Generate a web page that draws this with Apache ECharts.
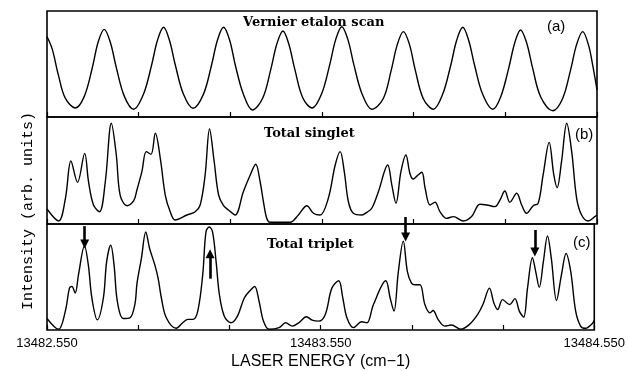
<!DOCTYPE html>
<html>
<head>
<meta charset="utf-8">
<script src="https://cdn.jsdelivr.net/npm/echarts@6/dist/echarts.min.js"></script>
<style>
	html, body { margin: 0; padding: 0; background: #fff; }
	#chart { width: 628px; height: 371px; }
</style>
</head>
<body>
<div id="chart"></div>
<script>
// laser energy (cm-1) and intensity (arb. units, 0-100 per panel)
const etalonE = [13482.550, 13482.569, 13482.591, 13482.616, 13482.653, 13482.686, 13482.715, 13482.736, 13482.758, 13482.780, 13482.802, 13482.831, 13482.865,
	13482.901, 13482.930, 13482.952, 13482.974, 13482.995, 13483.017, 13483.046, 13483.081,
	13483.119, 13483.148, 13483.170, 13483.192, 13483.214, 13483.235, 13483.264, 13483.297,
	13483.335, 13483.364, 13483.386, 13483.408, 13483.429, 13483.451, 13483.480, 13483.514,
	13483.549, 13483.578, 13483.600, 13483.622, 13483.644, 13483.666, 13483.695, 13483.731,
	13483.773, 13483.802, 13483.824, 13483.846, 13483.868, 13483.889, 13483.918, 13483.955,
	13483.989, 13484.018, 13484.040, 13484.062, 13484.083, 13484.105, 13484.134, 13484.171,
	13484.200, 13484.229, 13484.251, 13484.272, 13484.294, 13484.316, 13484.345, 13484.389,
	13484.425, 13484.454, 13484.476, 13484.498, 13484.519, 13484.535, 13484.550]
const etalonI = [76, 64, 40, 18, 8.5, 19.7, 46.7, 70.7, 82.7, 70.7, 46.7, 19.7, 7.3,
	21.6, 48.6, 72.6, 84.6, 72.6, 48.6, 21.6, 8.2,
	21.6, 48.6, 72.6, 84.6, 72.6, 48.6, 21.6, 6.6,
	18.1, 45.1, 69.1, 81.1, 69.1, 45.1, 18.1, 8.5,
	22.2, 49.2, 73.2, 85.2, 73.2, 49.2, 22.2, 7.3,
	17.5, 44.5, 68.5, 80.5, 68.5, 44.5, 17.5, 7.3,
	21.6, 48.6, 72.6, 84.6, 72.6, 48.6, 21.6, 7.3,
	19.1, 46.1, 70.1, 82.1, 70.1, 46.1, 19.1, 5.9,
	17.5, 44.5, 68.5, 80.5, 68, 48, 25.5]

const singletE = [13482.550, 13482.592, 13482.617, 13482.637, 13482.661, 13482.687, 13482.701, 13482.719, 13482.741, 13482.762,
	13482.784, 13482.802, 13482.816, 13482.841, 13482.865, 13482.877, 13482.895, 13482.911, 13482.928, 13482.944,
	13482.962, 13482.980, 13482.998, 13483.016, 13483.059, 13483.089, 13483.107, 13483.125, 13483.141, 13483.158,
	13483.174, 13483.192, 13483.210, 13483.234, 13483.264, 13483.289, 13483.309, 13483.325, 13483.337, 13483.349,
	13483.361, 13483.434, 13483.464, 13483.495, 13483.519, 13483.543, 13483.573, 13483.598, 13483.616, 13483.631,
	13483.646, 13483.664, 13483.695, 13483.713, 13483.731, 13483.755, 13483.789, 13483.804, 13483.819, 13483.837,
	13483.855, 13483.870, 13483.882, 13483.896, 13483.913, 13483.925, 13483.943, 13483.961, 13483.979, 13484.003,
	13484.028, 13484.064, 13484.094, 13484.124, 13484.149, 13484.179, 13484.197, 13484.215, 13484.233, 13484.258,
	13484.276, 13484.294, 13484.318, 13484.336, 13484.354, 13484.376, 13484.393, 13484.405, 13484.421, 13484.440,
	13484.458, 13484.476, 13484.494, 13484.518, 13484.542, 13484.550]
const singletI = [14, 2.8, 24, 58.9, 39, 66, 39.5, 17.8, 11.5, 39.5,
	94.1, 64.5, 27, 17.1, 21.5, 31.8, 48.9, 67.6, 65.1, 84.8,
	61.4, 27.1, 11.5, 3.7, 8.4, 11.5, 17.8, 45.8, 88.8, 58.2,
	27.1, 17.1, 13.1, 8.4, 30.2, 45.8, 55.8, 39.5, 20.8, 5.3,
	1.6, 1.6, 8.4, 17.1, 10, 8.4, 24, 55.1, 67.6, 48.9,
	20.8, 10, 8.4, 10.9, 14.7, 30.2, 55.1, 36.4, 19.3, 48.9,
	64.5, 47, 42, 45, 48.3, 33.4, 17.8, 20.3, 11.5, 5.3,
	6.9, 2.8, 6.9, 18.4, 17.8, 16.2, 22.4, 30.8, 20.3, 28.7,
	17.8, 10, 17.1, 19.3, 45.8, 76.3, 45.8, 33.9, 58.2, 94.1,
	67.6, 24, 8.4, 2.8, 6.9, 8.4]

const tripletE = [13482.550, 13482.592, 13482.617, 13482.632, 13482.641, 13482.653, 13482.665, 13482.687, 13482.701, 13482.714,
	13482.734, 13482.756, 13482.768, 13482.783, 13482.795, 13482.807, 13482.828, 13482.853, 13482.871, 13482.879,
	13482.895, 13482.911, 13482.925, 13482.944, 13482.956, 13482.968, 13482.986, 13483.022, 13483.046, 13483.065,
	13483.083, 13483.101, 13483.119, 13483.131, 13483.143, 13483.155, 13483.168, 13483.180, 13483.198, 13483.222,
	13483.246, 13483.271, 13483.295, 13483.309, 13483.325, 13483.341, 13483.361, 13483.398, 13483.422, 13483.446,
	13483.470, 13483.498, 13483.519, 13483.543, 13483.567, 13483.591, 13483.616, 13483.631, 13483.646, 13483.670,
	13483.700, 13483.719, 13483.743, 13483.788, 13483.804, 13483.818, 13483.834, 13483.852, 13483.867, 13483.882,
	13483.894, 13483.913, 13483.931, 13483.949, 13483.961, 13483.979, 13484.003, 13484.028, 13484.062, 13484.094,
	13484.124, 13484.143, 13484.167, 13484.183, 13484.197, 13484.215, 13484.240, 13484.260, 13484.276, 13484.292,
	13484.306, 13484.324, 13484.336, 13484.349, 13484.364, 13484.379, 13484.393, 13484.412, 13484.430, 13484.447,
	13484.464, 13484.482, 13484.500, 13484.518, 13484.542, 13484.550]
const tripletI = [10.9, 0.7, 17.8, 39.5, 41.1, 34.9, 52, 79.4, 61.4, 30.2,
	9.6, 30.2, 64.5, 80.1, 61.4, 27.1, 10.9, 11.5, 24, 44.2,
	67.6, 92.5, 76.9, 61.4, 48.9, 30.2, 11.5, 1.6, 6.8, 10,
	10, 17.8, 52, 92.5, 97.2, 92.5, 64.5, 33.4, 13, 6.8,
	13.1, 30.2, 38, 41.1, 27.1, 8.4, 0.7, 2.2, 6.8, 3.7,
	6.8, 12.5, 9.3, 8.4, 14.7, 39.5, 46.4, 30.2, 11.5, 2.2,
	7.8, 6.8, 24, 46.4, 30.2, 17.8, 55.1, 83.8, 55.1, 44.2,
	42.7, 42.7, 24, 16.2, 18.4, 10, 3.7, 4.7, 0.7, 5.3,
	14.7, 24, 39.5, 25.5, 19.3, 28.7, 24, 29.6, 17.8, 12.1,
	39.5, 68.2, 55.1, 40.2, 64.5, 88.8, 67.6, 27.8, 52, 72.2,
	55.1, 17.8, 3.7, 1.6, 5.9, 9.1]

// arrows in the triplet panel (energy, tail, head) - same intensity units
const arrowE = [13482.687, 13483.143, 13483.854, 13484.324]
const arrowTail = [98, 48.9, 106.5, 94.4]
const arrowHead = [81.3, 72.2, 87.9, 73.8]

const xMin = 13482.55
const xMax = 13484.55
const tickStep = 1 / 3
const labelE = [13482.55, 13483.55, 13484.55]
const panelNames = ['Vernier etalon scan', 'Total singlet', 'Total triplet']
const panelTags = ['(a)', '(b)', '(c)']

const tickE = []
for (let k = 0; k <= 6; k++) tickE.push(xMin + k * tickStep)

const zip = (xs, ys) => xs.map((x, i) => [x, ys[i]])

const chart = echarts.init(document.getElementById('chart'))

const frame = { show: true, borderColor: '#000', borderWidth: 1.6, backgroundColor: 'transparent' }
const grids = [
	Object.assign({ left: 47, right: 31, top: 11, height: 106 }, frame),
	Object.assign({ left: 47, right: 31, top: 117, height: 107 }, frame),
	Object.assign({ left: 47, right: 31, top: 224, height: 107 }, frame),
	// overlay for the arrows, same scale as panel (c) but reaching a little higher
	{ left: 47, right: 31, top: 214, height: 117, show: false },
]

const xAxes = [0, 1, 2, 3].map(i => ({
	type: 'value',
	gridIndex: i,
	min: xMin,
	max: xMax,
	show: i < 3,
	axisLine: { show: false },
	splitLine: { show: false },
	axisTick: {
		show: true,
		inside: true,
		length: 5,
		customValues: tickE,
		lineStyle: { color: '#000', width: 1.2 },
	},
	axisLabel: {
		show: i === 2,
		customValues: labelE,
		formatter: v => v.toFixed(3),
		color: '#000',
		fontFamily: 'Liberation Sans',
		fontSize: 13,
		margin: 7,
	},
	name: i === 2 ? 'LASER ENERGY (cm\u22121)' : '',
	nameLocation: 'middle',
	nameGap: 24,
	nameTextStyle: { color: '#000', fontFamily: 'Liberation Sans', fontSize: 16 },
}))

const yAxes = [0, 1, 2, 3].map(i => ({
	type: 'value',
	gridIndex: i,
	min: 0,
	max: i === 3 ? 100 * 117 / 107 : 100,
	show: false,
}))

const lineBase = {
	type: 'line',
	showSymbol: false,
	smooth: 0.35,
	lineStyle: { color: '#000', width: 1.4 },
	silent: true,
}

const series = [
	Object.assign({}, lineBase, { xAxisIndex: 0, yAxisIndex: 0, data: zip(etalonE, etalonI) }),
	Object.assign({}, lineBase, { xAxisIndex: 1, yAxisIndex: 1, data: zip(singletE, singletI) }),
	Object.assign({}, lineBase, { xAxisIndex: 2, yAxisIndex: 2, data: zip(tripletE, tripletI) }),
	{
		type: 'line',
		xAxisIndex: 3,
		yAxisIndex: 3,
		data: [],
		silent: true,
		markLine: {
			silent: true,
			symbol: ['none', 'triangle'],
			symbolSize: 9,
			label: { show: false },
			lineStyle: { color: '#000', width: 2.6, type: 'solid', opacity: 1 },
			data: arrowE.map((e, i) => [{ coord: [e, arrowTail[i]] }, { coord: [e, arrowHead[i]] }]),
		},
	},
]

const titleY = [22.7, 133.3, 244.7]
const titleX = [243, 264, 267]
const tagX = [547, 575, 573]
const tagY = [27, 135, 243]
const graphics = []
panelNames.forEach((t, i) => {
	graphics.push({
		type: 'text',
		x: titleX[i],
		y: titleY[i],
		style: {
			text: t,
			fill: '#000',
			font: 'bold 13px "DejaVu Serif"',
			verticalAlign: 'middle',
		},
	})
	graphics.push({
		type: 'text',
		x: tagX[i],
		y: tagY[i],
		style: { text: panelTags[i], fill: '#000', font: '15px "Liberation Sans"', verticalAlign: 'middle' },
	})
})
graphics.push({
	type: 'text',
	x: 28,
	y: 211,
	rotation: Math.PI / 2,
	style: {
		text: 'Intensity (arb. units)',
		fill: '#000',
		font: '15px "Liberation Mono"',
		align: 'center',
		verticalAlign: 'middle',
	},
})

chart.setOption({
	animation: false,
	backgroundColor: '#fff',
	grid: grids,
	xAxis: xAxes,
	yAxis: yAxes,
	series: series,
	graphic: graphics,
})
</script>
</body>
</html>
